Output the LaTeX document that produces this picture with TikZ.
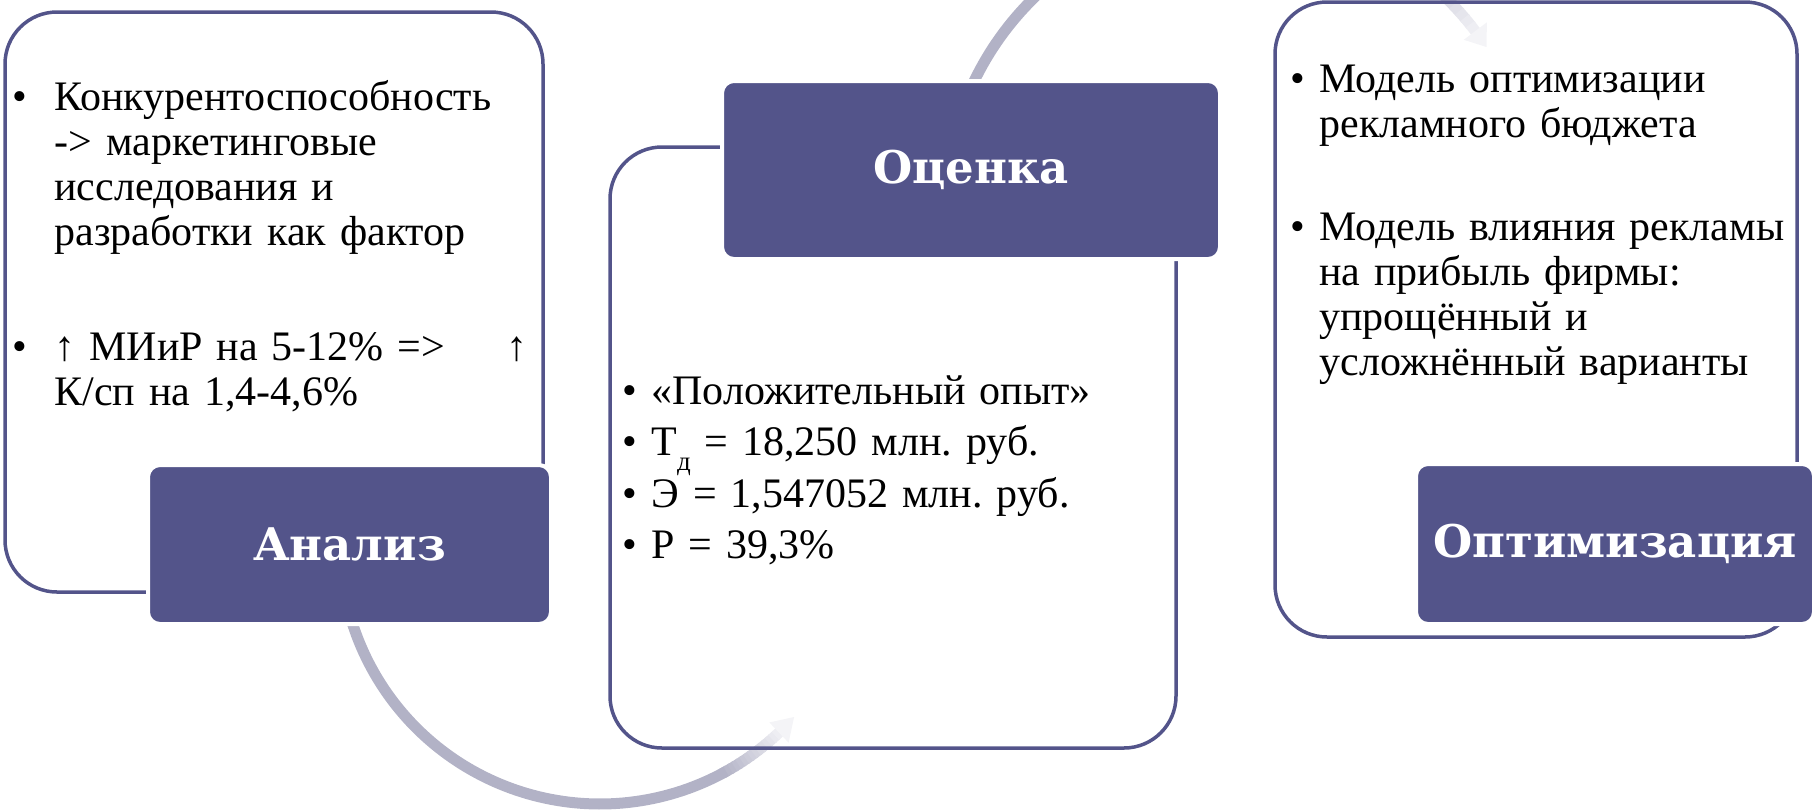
\documentclass[tikz,border=0pt]{standalone}
\usepackage{fontspec}
\setmainfont{Liberation Serif}
\newfontfamily\headfont{DejaVu Serif}
\definecolor{dark}{HTML}{53548A}
\definecolor{arcc}{HTML}{B2B2C6}
\definecolor{tipc}{HTML}{F4F4F7}
\newcommand\mybul[1]{\makebox[#1][l]{•}}
\newcommand\myind[1]{\hspace*{#1}}
\frenchspacing
\tikzset{
  outl/.style={draw=dark, line width=1.75pt, rounded corners=26pt, inner sep=0pt},
  headbox/.style={fill=dark, draw=white, line width=2pt, rounded corners=6pt, text=white,
    font=\headfont\bfseries\fontsize{22.5pt}{27pt}\selectfont, inner sep=0pt},
  body/.style={anchor=base west, inner sep=0pt, align=left, font=\frenchspacing\fontsize{21pt}{22.5pt}\selectfont},
  arcline/.style={line width=5.5pt, line cap=butt},
}
\begin{document}
\begin{tikzpicture}[x=0.5pt,y=-0.5pt]
\useasboundingbox (0,0) rectangle (1814,809);
\clip (0,0) rectangle (1814,809);
% --- connector arcs (drawn first, behind boxes)
% bottom: Analiz -> Ocenka, centre (600,544), r=260
\coordinate (bs) at ({600+260*cos(166)},{544+260*sin(166)});
\draw[arcline, arcc] plot[domain=166:61, samples=80] ({600+260*cos(\x)},{544+260*sin(\x)});
\foreach \i in {0,...,14}{
  \pgfmathsetmacro\aa{62-\i*1.03}
  \pgfmathsetmacro\bb{\aa-1.4}
  \pgfmathtruncatemacro\pp{max(5,100-\i*6.5)}
  \draw[arcline, arcc!\pp!tipc] ({600+260*cos(\aa)},{544+260*sin(\aa)}) -- ({600+260*cos(\bb)},{544+260*sin(\bb)});
}
\coordinate (bt) at ({600+260*cos(41.7)},{544+260*sin(41.7)});
\fill[tipc] ({600+274*cos(46.5)},{544+274*sin(46.5)}) -- ({600+246*cos(46.5)},{544+246*sin(46.5)}) -- (bt) -- cycle;
% top: Ocenka -> Optimizacija, centre (1240,209), r=295
\coordinate (ts) at ({1240+295*cos(202)},{209+295*sin(202)});
\draw[arcline, arcc] plot[domain=202:299, samples=80] ({1240+295*cos(\x)},{209+295*sin(\x)});
\foreach \i in {0,...,14}{
  \pgfmathsetmacro\aa{298+\i*1.66}
  \pgfmathsetmacro\bb{\aa+2.0}
  \pgfmathtruncatemacro\pp{max(5,100-\i*6.5)}
  \draw[arcline, arcc!\pp!tipc] ({1240+295*cos(\aa)},{209+295*sin(\aa)}) -- ({1240+295*cos(\bb)},{209+295*sin(\bb)});
}
\coordinate (tt) at ({1240+295*cos(326.7)},{209+295*sin(326.7)});
\fill[tipc] ({1240+309.5*cos(322.9)},{209+309.5*sin(322.9)}) -- ({1240+280.5*cos(322.9)},{209+280.5*sin(322.9)}) -- (tt) -- cycle;

% --- outline boxes
\node[outl, minimum width=269pt, minimum height=290pt] (ob1) at (274,302) {};
\node[outl, minimum width=283pt, minimum height=300.5pt] (ob2) at (893,447.5) {};
\node[outl, minimum width=261pt, minimum height=317.5pt] (ob3) at (1536,319.5) {};

% --- body texts
\node[body, text width=257.5pt] (t1) at (12.5,110) {%
\mybul{20.75pt}Конкурентоспособность\\
\myind{20.75pt}-> маркетинговые\\
\myind{20.75pt}исследования и\\
\myind{20.75pt}разработки как фактор\\[35pt]
\mybul{20.75pt}↑ МИиР на 5-12\% =>\hfill↑\\
\myind{20.75pt}К/сп на 1,4-4,6\%};

\node[body, text width=265pt, font=\fontsize{21pt}{25.75pt}\selectfont] (t2) at (622.5,404) {%
\mybul{14.25pt}«Положительный опыт»\\
\mybul{14.25pt}Т\raisebox{-7.5pt}{\fontsize{13.5pt}{14pt}\selectfont д} = 18,250 млн. руб.\\
\mybul{14.25pt}Э = 1,547052 млн. руб.\\
\mybul{14.25pt}Р = 39,3\%};

\node[body, text width=255pt] (t3) at (1290,92) {%
\mybul{14.5pt}Модель оптимизации\\
\myind{14.5pt}рекламного бюджета\\[29.25pt]
\mybul{14.5pt}Модель влияния рекламы\\
\myind{14.5pt}на прибыль фирмы:\\
\myind{14.5pt}упрощённый и\\
\myind{14.5pt}усложнённый варианты};

% --- header boxes
\node[headbox, minimum width=201.5pt, minimum height=79.5pt] (h1) at (349.5,544.5) {Анализ};
\node[headbox, minimum width=249pt, minimum height=89pt] (h2) at (971,170) {Оценка};
\node[headbox, minimum width=199pt, minimum height=80pt] (h3) at (1615,544) {Оптимизация};
\end{tikzpicture}
\end{document}
